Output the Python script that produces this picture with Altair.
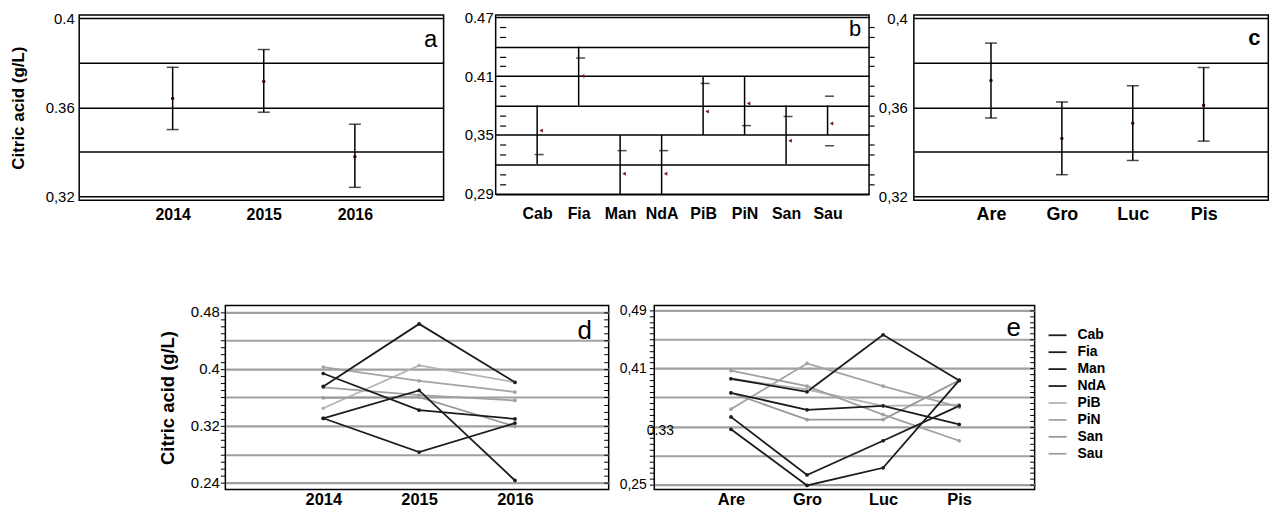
import altair as alt
import pandas as pd

FONT = "Liberation Sans"
NARROW = "Liberation Sans Narrow, Liberation Sans"

# ---------------- data ----------------
years = ["2014", "2015", "2016"]
a_mean = [0.364, 0.3716, 0.3378]
a_low = [0.350, 0.3578, 0.324]
a_high = [0.378, 0.386, 0.3524]

cultivars = ["Cab", "Fia", "Man", "NdA", "PiB", "PiN", "San", "Sau"]
b_mean = [0.3544, 0.410, 0.3105, 0.3105, 0.374, 0.382, 0.344, 0.3616]
b_low = [0.32, 0.38, 0.29, 0.29, 0.35, 0.35, 0.32, 0.35]
b_high = [0.38, 0.44, 0.35, 0.35, 0.41, 0.41, 0.38, 0.38]
b_dash_cultivar = ["Cab", "Fia", "Man", "NdA", "PiB", "PiN", "San", "Sau", "Sau"]
b_dash_value = [0.330, 0.4284, 0.334, 0.334, 0.4025, 0.3595, 0.3688, 0.3895, 0.339]

areas = ["Are", "Gro", "Luc", "Pis"]
c_mean = [0.3721, 0.346, 0.3528, 0.3609]
c_low = [0.3552, 0.3297, 0.3361, 0.3448]
c_high = [0.3889, 0.3624, 0.3697, 0.3779]

# cultivar x year (panel d)
d_cab = [0.3935, 0.342, 0.3297]
d_fia = [0.3753, 0.4632, 0.3812]
d_man = [0.3306, 0.3698, 0.2432]
d_nda = [0.3306, 0.2832, 0.3238]
d_pib = [0.3447, 0.4048, 0.3812]
d_pin = [0.4026, 0.383, 0.3675]
d_san = [0.3593, 0.3603, 0.3193]
d_sau = [0.374, 0.363, 0.3556]

# cultivar x area (panel e)
e_cab = [0.3765, 0.3531, 0.3585, 0.333]
e_fia = [0.3958, 0.3778, 0.4563, 0.3935]
e_man = [0.3433, 0.2634, 0.3105, 0.3585]
e_nda = [0.3262, 0.249, 0.2733, 0.3935]
e_pib = [0.3958, 0.381, 0.3585, 0.36]
e_pin = [0.354, 0.4169, 0.3855, 0.3567]
e_san = [0.3765, 0.3397, 0.3397, 0.3935]
e_sau = [0.407, 0.3855, 0.3464, 0.3105]

# axis values and tick labels
a_grid = [0.32, 0.34, 0.36, 0.38, 0.40]
a_label_at = [0.40, 0.36, 0.32]
a_labels = ["0.4", "0.36", "0,32"]
b_grid = [0.29, 0.32, 0.35, 0.38, 0.41, 0.44, 0.47]
b_label_at = [0.47, 0.41, 0.35, 0.29]
b_labels = ["0.47", "0.41", "0,35", "0,29"]
b_minor = [0.30, 0.31, 0.33, 0.34, 0.36, 0.37, 0.39, 0.40, 0.42, 0.43, 0.45, 0.46]
c_labels = ["0,4", "0,36", "0,32"]
d_grid = [0.24, 0.28, 0.32, 0.36, 0.40, 0.44, 0.48]
d_label_at = [0.48, 0.40, 0.32, 0.24]
d_labels = ["0.48", "0.4", "0.32", "0.24"]
d_ticks = [round(0.24 + 0.01 * i, 3) for i in range(25)]
e_grid = [0.25, 0.29, 0.33, 0.37, 0.41, 0.45, 0.49]
e_label_at = [0.49, 0.41, 0.33, 0.25]
e_labels = ["0,49", "0,41", "0.33", "0,25"]
e_ticks = [round(0.25 + 0.008 * i, 3) for i in range(31)]

line_colors = ["#1c1c1c", "#1c1c1c", "#1c1c1c", "#1c1c1c", "#b4b4b4", "#a4a4a4", "#9a9a9a", "#a0a0a0"]
line_widths = [1.8, 1.8, 1.8, 1.8, 1.3, 1.3, 1.3, 1.3]


# ---------------- helpers ----------------
def match(v):
    return f"abs(datum.value - {v}) < 0.0004"


def label_expr(at, txt):
    expr = "''"
    for v, t in zip(reversed(at), reversed(txt)):
        expr = f"{match(v)} ? '{t}' : {expr}"
    return expr


def any_of(vals):
    return " || ".join(match(v) for v in vals)


def cond(test, yes, no):
    return {"condition": {"test": test, "value": yes}, "value": no}


def letter(ch, x, y, size, weight="normal"):
    return alt.Chart(pd.DataFrame({"t": [ch]})).mark_text(
        font=FONT, fontSize=size, fontWeight=weight, color="black",
        align="center", baseline="middle"
    ).encode(text="t:N", x=alt.value(x), y=alt.value(y))


def top_x_axis(size, pad, font=FONT):
    return alt.Axis(title=None, labelAngle=0, ticks=False, domain=False, grid=False,
                    labelFont=font, labelFontSize=size, labelFontWeight="bold",
                    labelPadding=pad, labelColor="black")


# ---------------- panel a ----------------
a_df = pd.DataFrame({"year": years, "mean": a_mean, "low": a_low, "high": a_high})
a_x = alt.X("year:N", sort=years, scale=alt.Scale(type="point", padding=1.09, align=0.513),
            axis=top_x_axis(16, 6))
a_ydom = alt.Scale(domain=[0.3182, 0.4015], nice=False, zero=False)
a_yaxis = alt.Axis(values=a_grid, labelExpr=label_expr(a_label_at, a_labels), grid=True,
                   gridColor="black", gridWidth=1.5, ticks=False, domain=False,
                   labelOverlap=False, labelFlush=False, labelFontSize=15, labelPadding=5,
                   title="Citric acid (g/L)", titleFontSize=17, titleFontWeight="bold",
                   titlePadding=17.3)
a_rule = alt.Chart(a_df).mark_rule(color="black", strokeWidth=1.5).encode(
    x=a_x, y=alt.Y("low:Q", scale=a_ydom, axis=a_yaxis), y2="high:Q")
a_cap1 = alt.Chart(a_df).mark_tick(color="black", size=12, thickness=1.5).encode(
    x=a_x, y=alt.Y("low:Q", scale=a_ydom, axis=a_yaxis))
a_cap2 = alt.Chart(a_df).mark_tick(color="black", size=12, thickness=1.5).encode(
    x=a_x, y=alt.Y("high:Q", scale=a_ydom, axis=a_yaxis))
a_dot = alt.Chart(a_df).mark_point(filled=True, size=12, color="#2a0505", opacity=1).encode(
    x=a_x, y=alt.Y("mean:Q", scale=a_ydom, axis=a_yaxis))
a_chart = alt.layer(a_rule, a_cap1, a_cap2, a_dot, letter("a", 353, 25, 24)).properties(
    width=366, height=186)

# ---------------- panel b ----------------
b_df = pd.DataFrame({"cultivar": cultivars, "mean": b_mean, "low": b_low, "high": b_high})
b_dash_df = pd.DataFrame({"cultivar": b_dash_cultivar, "value": b_dash_value})
b_x = alt.X("cultivar:N", sort=cultivars, scale=alt.Scale(type="point", padding=1.3, align=0.5),
            axis=top_x_axis(16, 11, NARROW))
b_ydom = alt.Scale(domain=[0.2895, 0.4722], nice=False, zero=False)
b_yaxis = alt.Axis(values=b_grid, labelExpr=label_expr(b_label_at, b_labels), grid=True,
                   gridColor="black", gridWidth=1.5, ticks=False, domain=False,
                   labelOverlap=False, labelFlush=False, labelFontSize=15, labelPadding=2.5,
                   title=None)
b_inner_axis = alt.Axis(orient="left", values=b_minor, labels=False, grid=False, domain=False,
                        ticks=True, tickSize=6, tickColor="black", tickWidth=1.2, offset=-10,
                        title=None)
b_right_axis = alt.Axis(orient="right", values=b_minor, labels=False, grid=False, domain=False,
                        ticks=True, tickSize=5, tickColor="black", tickWidth=1.2, title=None)
b_rule = alt.Chart(b_df).mark_rule(color="black", strokeWidth=1.5).encode(
    x=b_x, y=alt.Y("low:Q", scale=b_ydom, axis=b_yaxis), y2="high:Q")
b_dash = alt.Chart(b_dash_df).mark_tick(color="black", size=9, thickness=1.5, xOffset=2).encode(
    x=b_x, y=alt.Y("value:Q", scale=b_ydom, axis=b_inner_axis))
b_dot = alt.Chart(b_df).mark_point(filled=True, size=16, shape="triangle-left", color="#7a1414",
                                   opacity=1, xOffset=4).encode(
    x=b_x, y=alt.Y("mean:Q", scale=b_ydom, axis=b_right_axis))
b_chart = alt.layer(b_rule, b_dash, b_dot, letter("b", 361, 14.5, 22)).resolve_axis(
    y="independent").properties(width=375, height=180)

# ---------------- panel c ----------------
c_df = pd.DataFrame({"area": areas, "mean": c_mean, "low": c_low, "high": c_high})
c_x = alt.X("area:N", sort=areas, scale=alt.Scale(type="point", padding=1.054, align=0.544),
            axis=top_x_axis(18, 5, NARROW))
c_yaxis = alt.Axis(values=a_grid, labelExpr=label_expr(a_label_at, c_labels), grid=True,
                   gridColor="black", gridWidth=1.5, ticks=False, domain=False,
                   labelOverlap=False, labelFlush=False, labelFontSize=15, labelPadding=6.5,
                   title=None)
c_rule = alt.Chart(c_df).mark_rule(color="black", strokeWidth=1.5).encode(
    x=c_x, y=alt.Y("low:Q", scale=a_ydom, axis=c_yaxis), y2="high:Q")
c_cap1 = alt.Chart(c_df).mark_tick(color="black", size=12, thickness=1.5).encode(
    x=c_x, y=alt.Y("low:Q", scale=a_ydom, axis=c_yaxis))
c_cap2 = alt.Chart(c_df).mark_tick(color="black", size=12, thickness=1.5).encode(
    x=c_x, y=alt.Y("high:Q", scale=a_ydom, axis=c_yaxis))
c_dot = alt.Chart(c_df).mark_point(filled=True, size=12, color="#2a0505", opacity=1).encode(
    x=c_x, y=alt.Y("mean:Q", scale=a_ydom, axis=c_yaxis))
c_chart = alt.layer(c_rule, c_cap1, c_cap2, c_dot, letter("c", 342, 23, 22, "bold")).properties(
    width=356, height=186)

# ---------------- long tables for d and e ----------------
d_series = [d_pib, d_pin, d_san, d_sau, d_cab, d_fia, d_man, d_nda]
e_series = [e_pib, e_pin, e_san, e_sau, e_cab, e_fia, e_man, e_nda]
draw_order = ["PiB", "PiN", "San", "Sau", "Cab", "Fia", "Man", "NdA"]
d_df = pd.DataFrame([(cv, yr, v) for cv, vals in zip(draw_order, d_series)
                     for yr, v in zip(years, vals)], columns=["cultivar", "year", "value"])
e_df = pd.DataFrame([(cv, ar, v) for cv, vals in zip(draw_order, e_series)
                     for ar, v in zip(areas, vals)], columns=["cultivar", "area", "value"])

color_scale = alt.Scale(domain=cultivars, range=line_colors)
width_scale = alt.Scale(domain=cultivars, range=line_widths)


def bottom_left_axis(ticks, grid, at, txt, title, extra):
    kw = dict(values=ticks, labelExpr=label_expr(at, txt), grid=True, gridColor="#a0a0a0",
              gridWidth=2.2, gridOpacity=cond(any_of(grid), 1, 0), ticks=True, tickSize=5,
              tickColor="black", tickWidth=1, domain=False, labelOverlap=False,
              labelFlush=False)
    kw.update(extra)
    if title:
        kw.update(title=title, titleFontSize=18.5, titleFontWeight="bold")
    else:
        kw.update(title=None)
    return alt.Axis(**kw)


def right_tick_axis(ticks):
    return alt.Axis(orient="right", values=ticks, labels=False, grid=False, domain=False,
                    ticks=True, tickSize=5, tickColor="black", tickWidth=1, offset=-5,
                    title=None)


# ---------------- panel d ----------------
d_x = alt.X("year:N", sort=years, scale=alt.Scale(type="point", padding=1.139, align=0.511),
            axis=top_x_axis(16.5, 2, NARROW))
d_ydom = alt.Scale(domain=[0.2304, 0.4892], nice=False, zero=False)
d_lines = alt.Chart(d_df).mark_line(point=alt.OverlayMarkDef(filled=True, size=14)).encode(
    x=d_x,
    y=alt.Y("value:Q", scale=d_ydom,
            axis=bottom_left_axis(d_ticks, d_grid, d_label_at, d_labels, "Citric acid (g/L)",
                                  dict(labelPadding=1, titlePadding=12.5, labelFontSize=15))),
    color=alt.Color("cultivar:N", scale=color_scale, legend=None),
    strokeWidth=alt.StrokeWidth("cultivar:N", scale=width_scale, legend=None),
    detail="cultivar:N")
d_right = alt.Chart(d_df).mark_point(opacity=0).encode(
    x=d_x, y=alt.Y("value:Q", scale=d_ydom, axis=right_tick_axis(d_ticks)))
d_chart = alt.layer(d_lines, d_right, letter("d", 361, 26, 26)).resolve_axis(
    y="independent").properties(width=385, height=185)

# ---------------- panel e ----------------
e_x = alt.X("area:N", sort=areas, scale=alt.Scale(type="point", padding=1.186, align=0.504),
            axis=top_x_axis(16.5, 2, NARROW))
e_ydom = alt.Scale(domain=[0.2433, 0.4967], nice=False, zero=False)
e_extra = dict(labelPadding=3, labelFontSize=14,
               labelAlign=cond(match(0.33), "left", "right"),
               labelOffset=cond(match(0.33), 4, 0))
e_lines = alt.Chart(e_df).mark_line(point=alt.OverlayMarkDef(filled=True, size=14)).encode(
    x=e_x,
    y=alt.Y("value:Q", scale=e_ydom,
            axis=bottom_left_axis(e_ticks, e_grid, e_label_at, e_labels, None, e_extra)),
    color=alt.Color("cultivar:N", scale=color_scale,
                    legend=alt.Legend(orient="none", legendX=395, legendY=20, title=None,
                                      symbolType="stroke", symbolSize=324, symbolStrokeWidth=2,
                                      labelFont=FONT, labelFontSize=14, labelFontWeight="bold",
                                      labelColor="black", labelOffset=10, rowPadding=0,
                                      padding=0)),
    strokeWidth=alt.StrokeWidth("cultivar:N", scale=width_scale, legend=None),
    detail="cultivar:N")
e_right = alt.Chart(e_df).mark_point(opacity=0).encode(
    x=e_x, y=alt.Y("value:Q", scale=e_ydom, axis=right_tick_axis(e_ticks)))
e_chart = alt.layer(e_lines, e_right, letter("e", 361, 23, 26)).resolve_axis(
    y="independent").properties(width=382, height=185)

# ---------------- spacer + layout ----------------
spacer = alt.Chart(pd.DataFrame({"v": [0]})).mark_point(opacity=0).encode(
    x=alt.value(0), y=alt.value(0)).properties(
    width=71.0, height=10, view=alt.ViewBackground(strokeOpacity=0))

top = alt.hconcat(alt.hconcat(a_chart, b_chart, spacing=18.3), c_chart, spacing=1.3)
bottom = alt.hconcat(spacer, d_chart, e_chart, spacing=7.8).resolve_scale(
    color="independent", strokeWidth="independent")

chart = alt.vconcat(top, bottom, spacing=78.6).properties(
    padding={"left": 0.5, "top": 0, "right": 0, "bottom": 0}
).configure_view(stroke="black", strokeWidth=1.5).configure_axis(
    labelFont=FONT, titleFont=FONT, labelColor="black", titleColor="black"
).configure_text(font=FONT)

chart.save("out.html", embed_options={"renderer": "svg", "actions": False})
